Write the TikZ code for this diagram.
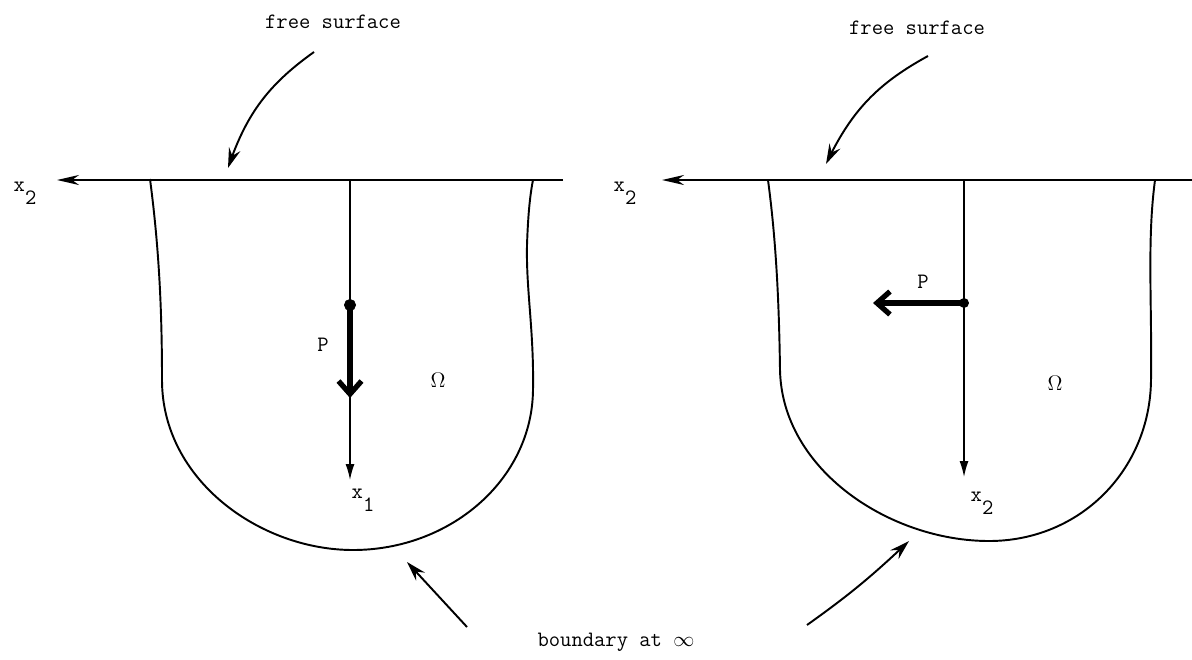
\documentclass[tikz,border=0pt]{standalone}
\usetikzlibrary{arrows.meta,bending}
\tikzset{
  lbl/.style={font=\fontsize{12.5}{14}\selectfont\ttfamily, inner sep=0pt},
  omg/.style={font=\large, inner sep=0pt},
  axisline/.style={line width=1.4pt, -{Stealth[length=4.4mm,width=2mm,inset=1.4mm]}},
  rim/.style={line width=1.1pt},
  thinaxis/.style={line width=0.8pt, -{Latex[length=3.2mm,width=1.8mm]}},
  load/.style={line width=3pt, -{Straight Barb[length=2.6mm,width=4.6mm]}},
  pointer/.style={line width=1.1pt, -{Stealth[length=4mm,width=2.4mm,inset=1.4mm]}},
}
\newcommand{\subtwo}[2]{#1\raisebox{-7.5pt}{#2}}
\begin{document}
\begin{tikzpicture}[x=0.02cm, y=-0.02cm]
\useasboundingbox (0,0) rectangle (1192,659);

\coordinate (axL) at (563,180);
\coordinate (axLtip) at (57,180);
\coordinate (topL) at (350,180);
\coordinate (dotL) at (350,305);
\coordinate (loadLtip) at (350,398);
\coordinate (x1tip) at (350,480);
\coordinate (fsLtail) at (314,52);
\coordinate (fsLtip) at (228,168);

\node[lbl] (x2L) at (25,193) {\subtwo{x}{2}};
\node[lbl] (fsL) at (333,22) {free surface};
\node[lbl] (PL) at (323,345) {P};
\node[omg] (OmL) at (438,380) {$\Omega$};
\node[lbl] (x1L) at (363,500) {\subtwo{x}{1}};

\draw[axisline] (axL) -- (axLtip);
\draw[rim] (150,179) .. controls (158,240) and (162,300) .. (162,380)
  .. controls (162,480) and (260,550) .. (353,550)
  .. controls (450,550) and (532,480) .. (533,390)
  .. controls (534,330) and (526,290) .. (527,245)
  .. controls (528,215) and (530,195) .. (533,180);
\draw[thinaxis] (topL) -- (x1tip);
\draw[load] (dotL) -- (loadLtip);
\filldraw[black] (dotL) circle (3.2pt);
\draw[pointer] (fsLtail) to[bend right=18] (fsLtip);

\coordinate (axR) at (1192,180);
\coordinate (axRtip) at (662,180);
\coordinate (topR) at (964,180);
\coordinate (dotR) at (964,303);
\coordinate (loadRtip) at (873,303);
\coordinate (x2tip) at (964,477);
\coordinate (fsRtail) at (928,56);
\coordinate (fsRtip) at (826,164);

\node[lbl] (x2R) at (625,193) {\subtwo{x}{2}};
\node[lbl] (fsR) at (917,28) {free surface};
\node[lbl] (PR) at (923,282) {P};
\node[omg] (OmR) at (1055,383) {$\Omega$};
\node[lbl] (x2B) at (982,503) {\subtwo{x}{2}};

\draw[axisline] (axR) -- (axRtip);
\draw[rim] (768,180) .. controls (776,240) and (779,300) .. (780,370)
  .. controls (782,470) and (890,541) .. (989,541)
  .. controls (1080,541) and (1150,470) .. (1151,380)
  .. controls (1152,300) and (1147,240) .. (1155,180);
\draw[thinaxis] (topR) -- (x2tip);
\draw[load] (dotR) -- (loadRtip);
\filldraw[black] (dotR) circle (2.6pt);
\draw[pointer] (fsRtail) to[bend right=18] (fsRtip);

\node[lbl] (bd) at (616,642) {boundary at $\infty$};
\coordinate (bdLtail) at (467,627);
\coordinate (bdLtip) at (407,562);
\coordinate (bdRtail) at (807,625);
\coordinate (bdRtip) at (909,541);
\draw[pointer] (bdLtail) -- (bdLtip);
\draw[pointer] (bdRtail) to[bend right=4] (bdRtip);
\end{tikzpicture}
\end{document}
